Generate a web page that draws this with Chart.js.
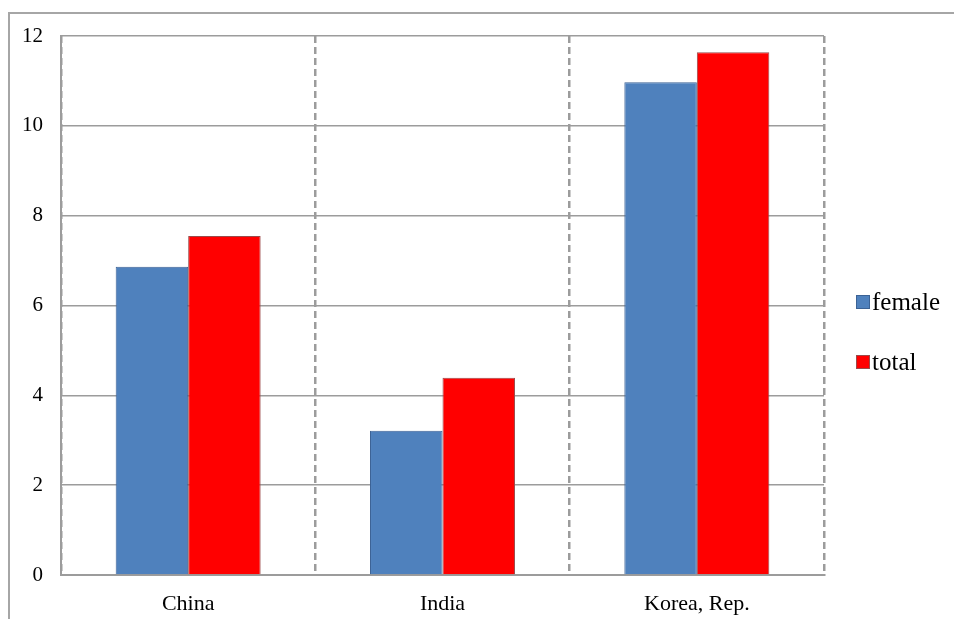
<!DOCTYPE html>
<html>
<head>
<meta charset="utf-8">
<script src="https://cdn.jsdelivr.net/npm/chart.js@4/dist/chart.umd.min.js"></script>
<style>
  body { margin: 0; background: #fff; }
  #wrap { position: relative; width: 954px; height: 619px; }
</style>
</head>
<body>
<div id="wrap">
  <canvas id="chart" width="954" height="619"></canvas>
</div>
<script>
// data
const countries = ['China', 'India', 'Korea, Rep.'];
const female = [6.86, 3.21, 10.97];
const total = [7.55, 4.39, 11.64];
const yTicks = [0, 2, 4, 6, 8, 10, 12];

const gridGray = '#9c9c9c';
const serif = "'Liberation Serif', 'DejaVu Serif', serif";

// grey frame of the chart box (top + left edge visible)
const framePlugin = {
    id: 'frame',
    beforeDraw(chart) {
        const ctx = chart.ctx;
        ctx.save();
        ctx.strokeStyle = '#a6a6a6';
        ctx.lineWidth = 2;
        ctx.beginPath();
        ctx.moveTo(9, 619);
        ctx.lineTo(9, 13);
        ctx.lineTo(954, 13);
        ctx.stroke();
        ctx.restore();
    }
};

// legend on the right, one entry per row like the original
const sideLegend = {
    id: 'sideLegend',
    afterDraw(chart) {
        const ctx = chart.ctx;
        const sets = chart.data.datasets;
        ctx.save();
        ctx.font = "25px " + serif;
        ctx.textBaseline = 'middle';
        sets.forEach(function(ds, i) {
            const y = 302 + i * 60;
            ctx.fillStyle = ds.backgroundColor;
            ctx.fillRect(856.5, y - 6.5, 13, 13);
            ctx.strokeStyle = ds.borderColor;
            ctx.lineWidth = 1;
            ctx.strokeRect(856.5, y - 6.5, 13, 13);
            ctx.fillStyle = '#000';
            ctx.fillText(ds.label, 872, y + 1);
        });
        ctx.restore();
    }
};

new Chart(document.getElementById('chart'), {
    type: 'bar',
    data: {
        labels: countries,
        datasets: [
            {
                label: 'female',
                data: female,
                backgroundColor: '#4f81bd',
                borderColor: '#3b6295',
                borderWidth: 1
            },
            {
                label: 'total',
                data: total,
                backgroundColor: '#ff0000',
                borderColor: '#9b4a4a',
                borderWidth: 1
            }
        ]
    },
    options: {
        responsive: false,
        animation: false,
        devicePixelRatio: 1,
        layout: { padding: { left: 0, top: 36, right: 130, bottom: 0 } },
        datasets: {
            bar: { categoryPercentage: 0.57, barPercentage: 1.0 }
        },
        plugins: {
            legend: { display: false },
            tooltip: { enabled: false }
        },
        scales: {
            x: {
                grid: {
                    offset: true,
                    color: gridGray,
                    lineWidth: 2.5,
                    drawTicks: false
                },
                border: { display: true, color: gridGray, width: 2, dash: [7, 4] },
                ticks: {
                    color: '#000',
                    padding: 16,
                    font: { family: serif, size: 22 }
                },
                afterFit(scale) { scale.height = 44; }
            },
            y: {
                min: 0,
                max: 12,
                afterBuildTicks(scale) {
                    scale.ticks = yTicks.map(function(v) { return { value: v }; });
                },
                grid: {
                    color: gridGray,
                    lineWidth: 1.5,
                    drawTicks: false
                },
                border: { display: true, color: gridGray, width: 2 },
                ticks: {
                    color: '#000',
                    padding: 18,
                    font: { family: serif, size: 21 }
                },
                afterFit(scale) { scale.width = 61; }
            }
        }
    },
    plugins: [framePlugin, sideLegend]
});
</script>
</body>
</html>
